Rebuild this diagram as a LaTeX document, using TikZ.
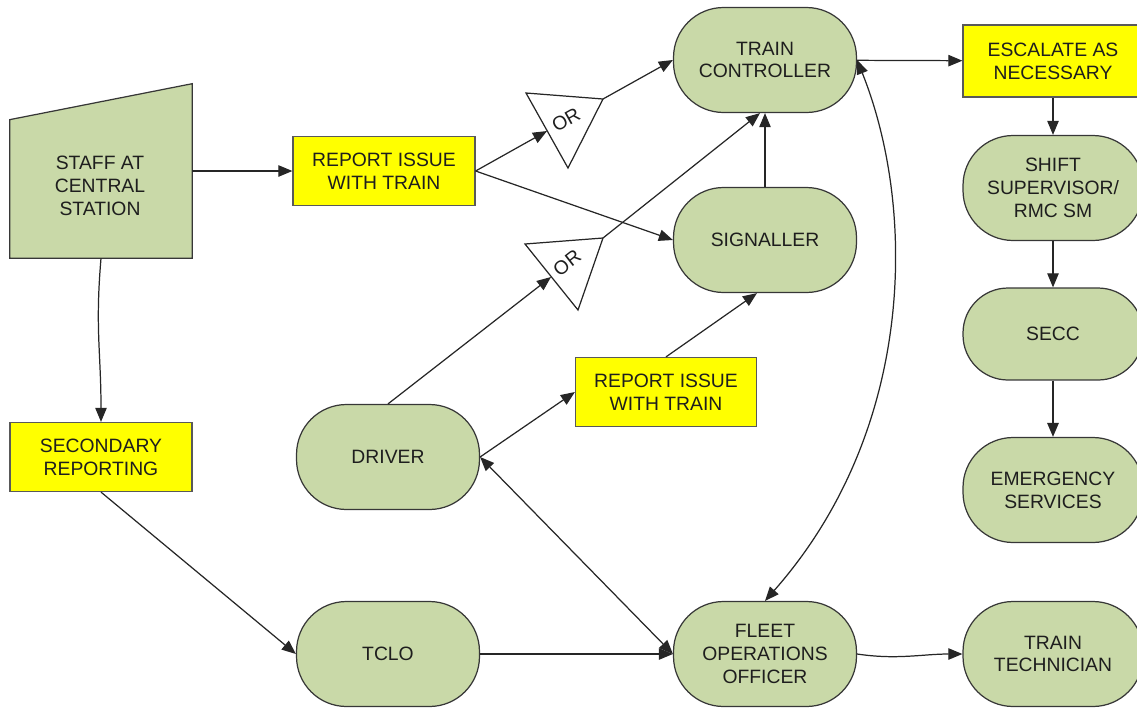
\documentclass[tikz,border=0pt]{standalone}
\usepackage{fontspec}
\setmainfont{Liberation Sans}
\usetikzlibrary{arrows.meta}
\definecolor{boxgreen}{RGB}{201,217,168}
\definecolor{boxyellow}{RGB}{255,255,0}
\definecolor{edgegray}{RGB}{55,55,55}
\definecolor{txtgray}{RGB}{30,30,30}
\tikzset{
	lbl/.style={align=center, text=txtgray, font=\fontsize{11}{13}\selectfont},
	pill/.style={lbl, draw=edgegray, fill=boxgreen, line width=0.7pt, minimum width=3.66cm, minimum height=2.1cm, rounded corners=1cm},
	notebox/.style={lbl, draw=black!65, fill=boxyellow, line width=0.7pt, minimum width=3.64cm, minimum height=1.38cm},
	gate/.style={draw=black!85, line width=0.7pt},
	gatelbl/.style={lbl, inner sep=0pt},
	flow/.style={draw=black!85, line width=0.7pt, ->},
	twoway/.style={flow, <->}
}

\begin{document}
\begin{tikzpicture}[x=0.02cm, y=-0.02cm, >={Triangle[length=8pt,width=6.5pt]}]
		%%%%% START %%%%%
		\useasboundingbox (0,0) rectangle (1137,711);
		
		% left column
		\node[minimum width=3.64cm, minimum height=3.48cm, inner sep=0] (staff) at (101,171) {};
		\draw[draw=edgegray, fill=boxgreen, line width=0.7pt] (staff.south west) -- ([yshift=-0.72cm]staff.north west) -- (staff.north east) -- (staff.south east) -- cycle;
		\node[lbl] (stafftxt) at (100,186) {STAFF AT\\CENTRAL\\STATION};
		\node[notebox] (sec) at (101,457) {SECONDARY\\REPORTING};
		
		% middle
		\node[notebox] (rep1) at (384,171) {REPORT ISSUE\\WITH TRAIN};
		\node[pill] (drv) at (388,457) {DRIVER};
		\node[pill] (tclo) at (388,654) {TCLO};
		\node[notebox, minimum width=3.62cm] (rep2) at (666,392) {REPORT ISSUE\\WITH TRAIN};
		\node[pill] (ctl) at (765,60) {TRAIN\\CONTROLLER};
		\node[pill] (sig) at (765,240) {SIGNALLER};
		\node[pill] (foo) at (765,654) {FLEET\\OPERATIONS\\OFFICER};
		
		% or gates
		\coordinate (or1in) at (547,131);
		\coordinate (or1out) at (603,99);
		\draw[gate] (526,93) -- (or1out) -- (568,168) -- cycle;
		\node[gatelbl, rotate=29] (or1lbl) at (566,120) {OR};
		\coordinate (or2in) at (551,277);
		\coordinate (or2out) at (603,238);
		\draw[gate] (525,244) -- (or2out) -- (578,310) -- cycle;
		\node[gatelbl, rotate=38] (or2lbl) at (567,263) {OR};
		
		% right column
		\node[notebox, minimum width=3.6cm, minimum height=1.44cm] (esc) at (1053,61) {ESCALATE AS\\NECESSARY};
		\node[pill, minimum width=3.6cm] (ssup) at (1053,188) {SHIFT\\SUPERVISOR/\\RMC SM};
		\node[pill, minimum width=3.6cm, minimum height=1.84cm, rounded corners=0.9cm] (secc) at (1053,334) {SECC};
		\node[pill, minimum width=3.6cm] (emg) at (1053,490) {EMERGENCY\\SERVICES};
		\node[pill, minimum width=3.6cm] (tech) at (1053,654) {TRAIN\\TECHNICIAN};
		
		% connectors
		\draw[flow] (staff) -- (rep1);
		\draw[flow] (staff.south) .. controls +(-6,70) and +(0,-70) .. (sec.north);
		\draw[flow] (sec.south) -- (tclo.west);
		\draw[flow] (tclo) -- (foo);
		\draw[flow] (rep1.east) -- (or1in);
		\draw[flow] (rep1.east) -- (sig.west);
		\draw[flow] (or1out) -- (ctl.west);
		\draw[flow] (drv.north) -- (or2in);
		\draw[flow] (or2out) -- ([xshift=-0.1cm]ctl.south);
		\draw[flow] (sig) -- (ctl);
		\draw[flow] (drv.east) -- (rep2.west);
		\draw[flow] (rep2.north) -- ([xshift=-0.16cm]sig.south);
		\draw[twoway] (drv.east) -- (foo.west);
		\draw[twoway] (ctl.east) .. controls +(60,150) and +(150,-170) .. (foo.north);
		\draw[flow] (ctl) -- (esc);
		\draw[flow] (esc) -- (ssup);
		\draw[flow] (ssup) -- (secc);
		\draw[flow, line width=1.1pt] (secc) -- (emg);
		\draw[flow] (foo.east) .. controls +(40,6) and +(-40,0) .. (tech.west);
		
		%%%%% END %%%%%
\end{tikzpicture}
\end{document}
